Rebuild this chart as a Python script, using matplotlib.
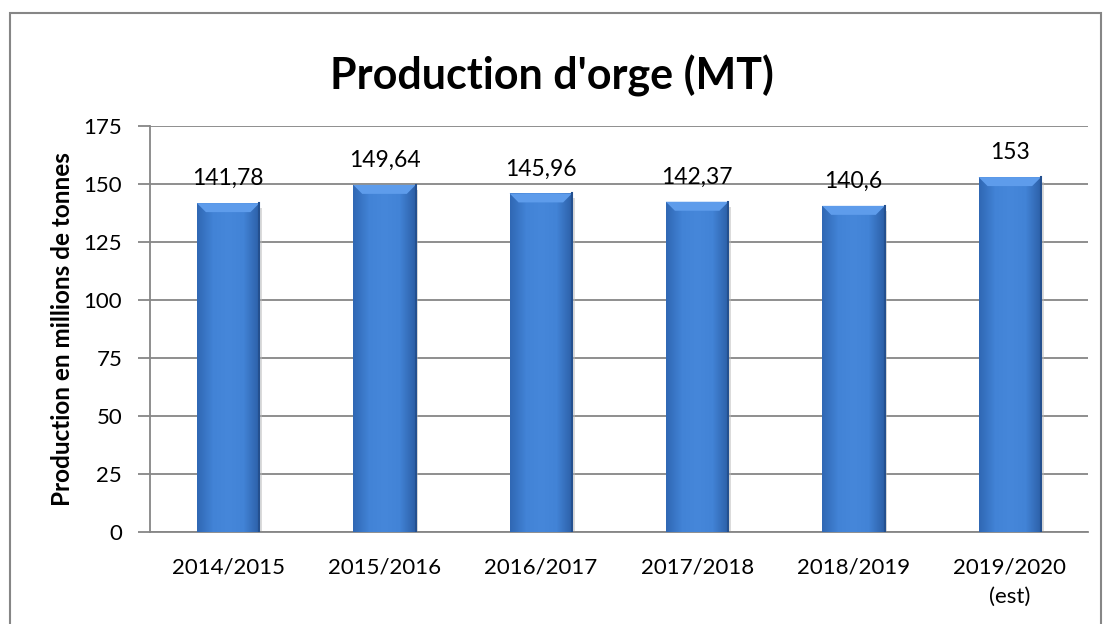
import matplotlib.pyplot as plt
import numpy as np
from matplotlib.patches import Polygon, Rectangle
from matplotlib.colors import LinearSegmentedColormap

plt.rcParams['font.family'] = ['Lato', 'DejaVu Sans']

# données
campagnes = ["2014/2015", "2015/2016", "2016/2017", "2017/2018", "2018/2019", "2019/2020\n(est)"]
production = [141.78, 149.64, 145.96, 142.37, 140.6, 153]
etiquettes = ["141,78", "149,64", "145,96", "142,37", "140,6", "153"]
graduations = [0, 25, 50, 75, 100, 125, 150, 175]

fig = plt.figure(figsize=(11.03, 6.24), dpi=100)
ax = fig.add_axes([0.136, 0.1474, 0.8504, 0.6506])

x = np.arange(len(campagnes))
barres = ax.bar(x, production, width=0.4, color="#3f7fd2", zorder=3)

ax.set_ylim(0, 175)
ax.set_xlim(-0.5, len(campagnes) - 0.5)
ax.set_yticks(graduations)
ax.set_xticks(x)
ax.set_xticklabels(campagnes, fontsize=16)
for t in ax.get_xticklabels():
    t.set_linespacing(1.6)
ax.tick_params(axis="x", length=0, pad=18)
ax.tick_params(axis="y", length=9, color="#868686", width=1.3, labelsize=16, pad=11)
ax.yaxis.grid(True, color="#868686", linewidth=1.3, zorder=0)

for s in ["top", "right"]:
    ax.spines[s].set_visible(False)
for s in ["left", "bottom"]:
    ax.spines[s].set_color("#868686")
    ax.spines[s].set_linewidth(1.3)

ax.set_ylabel("Production en millions de tonnes", fontsize=17.5, fontweight="bold", labelpad=7)
fig.text(0.5, 0.878, "Production d'orge (MT)", ha="center", va="center",
         fontsize=31, fontweight="bold")

# effet de relief sur les barres
cmap = LinearSegmentedColormap.from_list("bleu", ["#3068b4", "#4283d6", "#4687da", "#4283d6", "#2c5fa6"])
grad = np.linspace(0, 1, 64).reshape(1, -1)
fig.canvas.draw()
inv = ax.transData.inverted()
for b in barres:
    x0, y0, w, h = b.get_x(), b.get_y(), b.get_width(), b.get_height()
    im = ax.imshow(grad, cmap=cmap, extent=[x0, x0 + w, y0, y0 + h], aspect="auto", zorder=3.5)
    im.set_clip_path(b)
    # biseau en haut (en pixels)
    px0, py1 = ax.transData.transform((x0, y0 + h))
    px1, _ = ax.transData.transform((x0 + w, y0 + h))
    bv = 9
    haut = [inv.transform(p) for p in [(px0, py1), (px1, py1), (px1 - bv, py1 - bv), (px0 + bv, py1 - bv)]]
    ax.add_patch(Polygon(haut, closed=True, facecolor="#5e9ceb", edgecolor="none", zorder=4))
    ax.plot([x0 + w, x0 + w], [y0, y0 + h], color="#24508f", linewidth=1.5, zorder=4)
    # ombre légère
    ax.add_patch(Rectangle((x0 + w, y0), w * 0.04, h * 0.985, facecolor="#b8b8b8", alpha=0.5,
                           edgecolor="none", zorder=2.5))

for b, lab in zip(barres, etiquettes):
    ax.annotate(lab, (b.get_x() + b.get_width() / 2, b.get_height()), xytext=(0, 13),
                textcoords="offset points", ha="center", va="baseline", fontsize=16.5, zorder=5)

# cadre extérieur
fig.add_artist(Rectangle((10 / 1103, -0.05), 1091 / 1103, 1.05 - 13 / 624, transform=fig.transFigure,
                         fill=False, edgecolor="#868686", linewidth=1.5))

fig.savefig("out.png", dpi=100)
